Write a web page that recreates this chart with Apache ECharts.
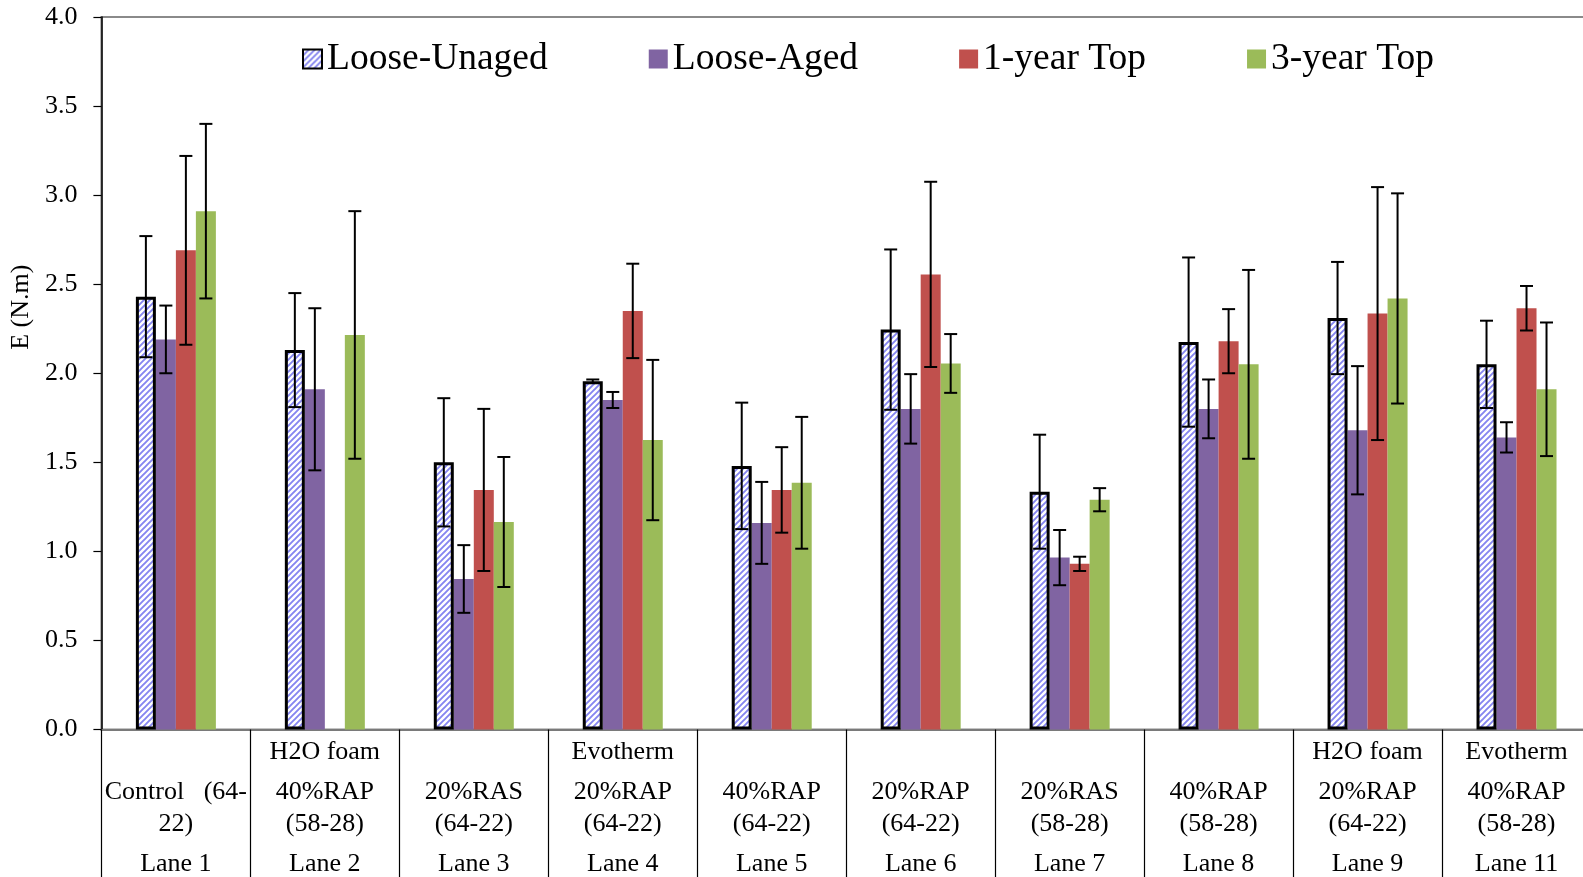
<!DOCTYPE html>
<html>
<head>
<meta charset="utf-8">
<script src="https://cdn.jsdelivr.net/npm/echarts@6/dist/echarts.min.js"></script>
<style>
html,body{margin:0;padding:0;background:#fff;overflow:hidden;width:1583px;height:877px;}
#chart{width:1600px;height:877px;}
</style>
</head>
<body>
<div id="chart"></div>
<script>
// ---- data ----
var lanes = ['Lane 1','Lane 2','Lane 3','Lane 4','Lane 5','Lane 6','Lane 7','Lane 8','Lane 9','Lane 11'];
var prefixLine = ['', 'H2O foam', '', 'Evotherm', '', '', '', '', 'H2O foam', 'Evotherm'];
var mixLine = ['Control   (64-', '40%RAP', '20%RAS', '20%RAP', '40%RAP', '20%RAP', '20%RAS', '40%RAP', '20%RAP', '40%RAP'];
var binderLine = ['22)', '(58-28)', '(64-22)', '(64-22)', '(64-22)', '(64-22)', '(58-28)', '(58-28)', '(64-22)', '(58-28)'];
var seriesNames = ['Loose-Unaged', 'Loose-Aged', '1-year Top', '3-year Top'];
var yTicks = [0, 0.5, 1.0, 1.5, 2.0, 2.5, 3.0, 3.5, 4.0];

var unaged    = [2.43, 2.13, 1.50, 1.955, 1.48, 2.245, 1.335, 2.175, 2.31, 2.05];
var unagedErr = [0.34, 0.32, 0.36, 0.01, 0.355, 0.45, 0.32, 0.475, 0.315, 0.245];
var aged      = [2.19, 1.91, 0.845, 1.85, 1.16, 1.80, 0.965, 1.80, 1.68, 1.64];
var agedErr   = [0.19, 0.455, 0.19, 0.045, 0.23, 0.195, 0.155, 0.165, 0.36, 0.085];
var year1     = [2.69, null, 1.345, 2.35, 1.345, 2.555, 0.93, 2.18, 2.335, 2.365];
var year1Err  = [0.53, null, 0.455, 0.265, 0.24, 0.52, 0.04, 0.18, 0.71, 0.125];
var year3     = [2.91, 2.215, 1.165, 1.625, 1.385, 2.055, 1.29, 2.05, 2.42, 1.91];
var year3Err  = [0.49, 0.695, 0.365, 0.45, 0.37, 0.165, 0.065, 0.53, 0.59, 0.375];

// ---- styles ----
var FONT = '"Liberation Serif", "Times New Roman", serif';
var BAR_W = 20;

var pc = document.createElement('canvas');
pc.width = 6; pc.height = 6;
var g = pc.getContext('2d');
g.fillStyle = '#ffffff';
g.fillRect(0, 0, 6, 6);
g.strokeStyle = '#8585f0';
g.lineWidth = 1.9;
g.beginPath();
g.moveTo(-1, 7); g.lineTo(7, -1);
g.moveTo(-2, 2); g.lineTo(2, -2);
g.moveTo(4, 8); g.lineTo(8, 4);
g.stroke();

var colors = [{image: pc, repeat: 'repeat'}, '#8064A2', '#C0504D', '#9BBB59'];

function errSeries(vals, errs, idx) {
  var d = [];
  for (var i = 0; i < vals.length; i++) {
    if (vals[i] == null || errs[i] == null) continue;
    d.push([i, vals[i] - errs[i], vals[i] + errs[i]]);
  }
  return {
    type: 'custom',
    name: seriesNames[idx] + ' err',
    data: d,
    encode: {x: 0, y: [1, 2]},
    z: 10,
    silent: true,
    renderItem: function (params, api) {
      var i = api.value(0);
      var lo = api.coord([i, api.value(1)]);
      var hi = api.coord([i, api.value(2)]);
      var x = lo[0] + (idx - 1.5) * BAR_W;
      var cw = 6.5;
      var st = {stroke: '#000', lineWidth: 2};
      return {
        type: 'group',
        children: [
          {type: 'line', shape: {x1: x, y1: lo[1], x2: x, y2: hi[1]}, style: st},
          {type: 'line', shape: {x1: x - cw, y1: lo[1], x2: x + cw, y2: lo[1]}, style: st},
          {type: 'line', shape: {x1: x - cw, y1: hi[1], x2: x + cw, y2: hi[1]}, style: st}
        ]
      };
    }
  };
}

function barSeries(vals, idx) {
  var s = {
    type: 'bar',
    name: seriesNames[idx],
    data: vals,
    barWidth: BAR_W,
    barGap: '0%',
    itemStyle: {color: colors[idx]}
  };
  if (idx === 0) {
    s.itemStyle.borderColor = '#000';
    s.itemStyle.borderWidth = 3;
    s.z = 3;
  }
  return s;
}

var chart = echarts.init(document.getElementById('chart'));
chart.setOption({
  animation: false,
  backgroundColor: '#fff',
  textStyle: {fontFamily: FONT, color: '#000'},
  grid: {
    left: 97, top: 17, width: 1494, height: 713.5,
    show: true, borderColor: '#8a8a8a', borderWidth: 2, backgroundColor: 'transparent'
  },
  legend: {
    data: seriesNames,
    icon: 'rect',
    left: 297, top: 35,
    itemWidth: 19, itemHeight: 19,
    itemGap: 101,
    textStyle: {fontFamily: FONT, fontSize: 37.5, color: '#000'}
  },
  xAxis: {
    type: 'category',
    data: lanes,
    boundaryGap: true,
    axisLine: {lineStyle: {color: '#7a7a7a', width: 2}},
    axisTick: {show: true, interval: 0, length: 150, lineStyle: {color: '#000', width: 1.2}},
    axisLabel: {
      interval: 0,
      margin: 0,
      color: '#000',
      fontFamily: FONT,
      fontSize: 26,
      formatter: function (v, i) {
        var p = prefixLine[i] === '' ? '\u00a0' : prefixLine[i];
        return '{a|' + p + '}\n{b|' + mixLine[i] + '}\n{c|' + binderLine[i] + '}\n{d|' + lanes[i] + '}';
      },
      rich: {
        a: {fontFamily: FONT, fontSize: 26, lineHeight: 45, color: '#000', verticalAlign: 'middle'},
        b: {fontFamily: FONT, fontSize: 26, lineHeight: 35, color: '#000', verticalAlign: 'middle'},
        c: {fontFamily: FONT, fontSize: 26, lineHeight: 29, color: '#000', verticalAlign: 'middle'},
        d: {fontFamily: FONT, fontSize: 26, lineHeight: 51, color: '#000', verticalAlign: 'middle'}
      }
    },
    splitLine: {show: false}
  },
  yAxis: {
    type: 'value',
    min: yTicks[0],
    max: yTicks[yTicks.length - 1],
    interval: 0.5,
    name: 'E (N.m)',
    nameLocation: 'middle',
    nameRotate: 90,
    nameGap: 60,
    nameTextStyle: {fontFamily: FONT, fontSize: 26, color: '#000', padding: [0, 0, 0, 132]},
    axisLine: {show: true, lineStyle: {color: '#000', width: 1.5}},
    axisTick: {show: true, inside: false, length: 8, lineStyle: {color: '#000', width: 1.2}},
    axisLabel: {
      margin: 24, color: '#000', fontFamily: FONT, fontSize: 26,
      formatter: function (v) { return v.toFixed(1); }
    },
    splitLine: {show: false}
  },
  series: [
    barSeries(unaged, 0),
    barSeries(aged, 1),
    barSeries(year1, 2),
    barSeries(year3, 3),
    errSeries(unaged, unagedErr, 0),
    errSeries(aged, agedErr, 1),
    errSeries(year1, year1Err, 2),
    errSeries(year3, year3Err, 3)
  ]
});
</script>
</body>
</html>
